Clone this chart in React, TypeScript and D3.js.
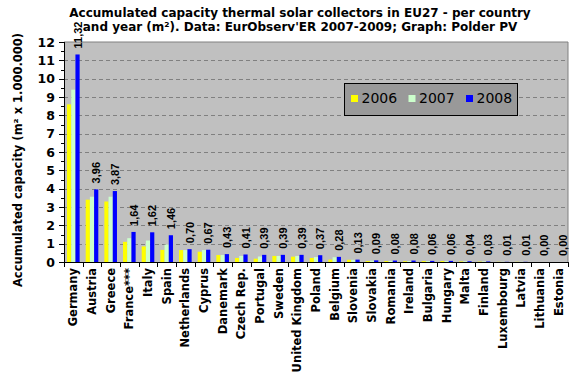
import React from "react";
import * as d3 from "d3";

const countries = ["Germany","Austria","Greece","France***","Italy","Spain","Netherlands","Cyprus","Danemark","Czech Rep.","Portugal","Sweden","United Kingdom","Poland","Belgium","Slovenia","Slovakia","Romania","Ireland","Bulgaria","Hungary","Malta","Finland","Luxembourg","Latvia","Lithuania","Estonia"];
const years = ["2006","2007","2008"];
const v2006 = [8.6,3.4,3.3,1.1,0.85,0.66,0.65,0.56,0.38,0.22,0.18,0.33,0.29,0.22,0.13,0.12,0.05,0.05,0.04,0.05,0.05,0.03,0.02,0.01,0.01,0,0];
const v2007 = [9.4,3.56,3.56,1.3,1.17,0.95,0.65,0.65,0.38,0.33,0.3,0.33,0.33,0.27,0.26,0.12,0.07,0.06,0.05,0.05,0.05,0.04,0.03,0.01,0.01,0,0];
const v2008 = [11.32,3.96,3.87,1.64,1.62,1.46,0.70,0.67,0.43,0.41,0.39,0.39,0.39,0.37,0.28,0.13,0.09,0.08,0.08,0.06,0.06,0.04,0.03,0.01,0.01,0.00,0.00];
const seriesValues = [v2006, v2007, v2008];
const colors = ["#FFFF00","#CCFFCC","#0000FF"];
const yTicks = [0,1,2,3,4,5,6,7,8,9,10,11,12];
const titleLines = ["Accumulated capacity thermal solar collectors in EU27 - per country","and year (m²). Data: EurObserv'ER 2007-2009; Graph: Polder PV"];
const yTitle = "Accumulated capacity (m² x 1.000.000)";

export default function App() {
  const W = 581, H = 381;
  const left = 64, right = 568, top = 42, bottom = 262;
  const x = d3.scaleBand<string>().domain(countries).range([left, right]).padding(0);
  const xs = d3.scaleBand<string>().domain(years).range([0, x.bandwidth()]).paddingInner(0).paddingOuter(0.72);
  const y = d3.scaleLinear().domain([0, 12]).range([bottom, top]);
  const minor = d3.range(0.5, 12, 1);
  const fmt = (v: number) => v.toFixed(2).replace(".", ",");
  const bold = "DejaVu Sans, Verdana, sans-serif";
  return (
    <svg width={W} height={H} style={{ position: "absolute", left: 0, top: 0, background: "#fff" }}>
      <rect x={0} y={0} width={W} height={H} fill="#fff" />
      <rect x={left} y={top} width={right - left} height={bottom - top} fill="#C0C0C0" />
      <line x1={right} x2={right} y1={top} y2={bottom} stroke="#808080" />
      <line x1={left} x2={right} y1={top} y2={top} stroke="#808080" />
      {yTicks.filter(t => t > 0 && t < 12).map(t => (
        <line key={"g" + t} x1={left} x2={right} y1={Math.round(y(t)) + 0.5} y2={Math.round(y(t)) + 0.5} stroke="#808080" strokeDasharray="4,3" />
      ))}
      {seriesValues.map((vals, si) => (
        <g key={si} fill={colors[si]}>
          {countries.map((c, i) => (
            <rect key={c} x={(x(c) as number) + (xs(years[si]) as number)} y={y(vals[i])} width={xs.bandwidth()} height={bottom - y(vals[i])} />
          ))}
        </g>
      ))}
      {countries.map((c, i) => {
        const cx = (x(c) as number) + (xs("2008") as number) + xs.bandwidth() / 2;
        const ty = y(v2008[i]) - 6;
        return (
          <text key={"v" + c} transform={`translate(${cx},${ty}) rotate(-90)`} dy="0.36em" fontFamily="Liberation Sans, Arial, sans-serif" fontWeight="bold" fontSize={11} fill="#000">{fmt(v2008[i])}</text>
        );
      })}
      {/* axes */}
      <line x1={left + 0.5} x2={left + 0.5} y1={top} y2={bottom} stroke="#000" />
      <line x1={left} x2={right} y1={bottom + 0.5} y2={bottom + 0.5} stroke="#000" />
      {yTicks.map(t => (
        <g key={"t" + t}>
          <line x1={left - 5} x2={left} y1={Math.round(y(t)) + 0.5} y2={Math.round(y(t)) + 0.5} stroke="#000" />
          <text x={55} y={y(t)} dy="0.36em" textAnchor="end" fontFamily={bold} fontWeight="bold" fontSize={12.5}>{t}</text>
        </g>
      ))}
      {minor.map(t => (
        <line key={"m" + t} x1={left - 3} x2={left} y1={Math.round(y(t)) + 0.5} y2={Math.round(y(t)) + 0.5} stroke="#000" />
      ))}
      {d3.range(countries.length + 1).map(i => {
        const xx = Math.round(left + i * x.step()) + 0.5;
        return <line key={"xt" + i} x1={xx} x2={xx} y1={bottom} y2={bottom + 5} stroke="#000" />;
      })}
      {countries.map(c => {
        const cx = (x(c) as number) + x.bandwidth() / 2;
        return (
          <text key={"l" + c} transform={`translate(${cx},${bottom + 6}) rotate(-90)`} dy="0.36em" textAnchor="end" fontFamily={bold} fontWeight="bold" fontSize={11.5}>{c}</text>
        );
      })}
      <text transform={`translate(18,160) rotate(-90)`} dy="0.36em" textAnchor="middle" fontFamily={bold} fontWeight="bold" fontSize={11.5}>{yTitle}</text>
      {titleLines.map((t, i) => (
        <text key={"ti" + i} x={300} y={17 + i * 14} textAnchor="middle" fontFamily={bold} fontWeight="bold" fontSize={12}>{t}</text>
      ))}
      {/* legend */}
      <rect x={344.5} y={83.5} width={173} height={32} fill="#999999" stroke="#000" />
      {years.map((yr, i) => (
        <g key={"lg" + yr} transform={`translate(${351 + i * 57.5},0)`}>
          <rect x={0} y={95} width={7} height={7} fill={colors[i]} />
          <text x={10.5} y={103} fontFamily="DejaVu Sans, Verdana, sans-serif" fontSize={14}>{yr}</text>
        </g>
      ))}
    </svg>
  );
}
